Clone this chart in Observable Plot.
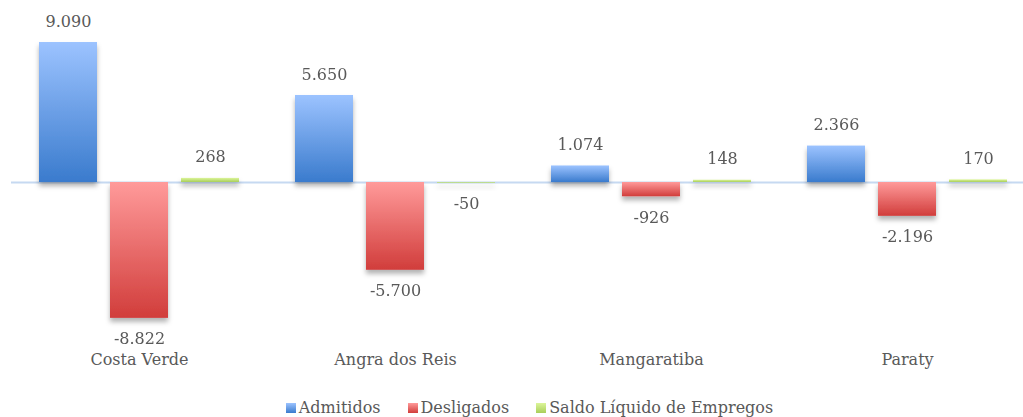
<!DOCTYPE html>
<html>
<head>
<meta charset="utf-8">
<script src="https://cdn.jsdelivr.net/npm/d3@7"></script>
<script src="https://cdn.jsdelivr.net/npm/@observablehq/plot@0.6"></script>
<style>
  body { margin: 0; background: #fff; font-family: "DejaVu Serif", serif; }
  #legend { display: flex; justify-content: center; padding-left: 36px; gap: 27px; margin-top: 23px; font-size: 16px; color: #595959; line-height: 20px; }
  #legend span.item { display: inline-flex; align-items: center; }
  #legend i { display: inline-block; width: 10px; height: 10px; margin-right: 3px; }
</style>
</head>
<body>
<div id="chart"></div>
<div id="legend"></div>
<script>
const regions = ["Costa Verde", "Angra dos Reis", "Mangaratiba", "Paraty"];
const seriesNames = ["Admitidos", "Desligados", "Saldo Líquido de Empregos"];
const admitidos = [9090, 5650, 1074, 2366];
const desligados = [-8822, -5700, -926, -2196];
const saldo = [268, -50, 148, 170];

const gradients = {
  Admitidos: ["#9cc3ff", "#3a7bcd"],
  Desligados: ["#ff9a9a", "#d13d3b"],
  "Saldo Líquido de Empregos": ["#dcf59a", "#a9cf5a"]
};
const gradId = {Admitidos: "gA", Desligados: "gD", "Saldo Líquido de Empregos": "gS"};

const rows = regions.flatMap((r, i) => [
  {region: r, serie: seriesNames[0], value: admitidos[i]},
  {region: r, serie: seriesNames[1], value: desligados[i]},
  {region: r, serie: seriesNames[2], value: saldo[i]}
]);

const loc = d3.formatLocale({decimal: ",", thousands: ".", grouping: [3], currency: ["", ""], minus: "-"});
const fmt = loc.format(",d");

const barMarks = seriesNames.map(s => Plot.barY(rows.filter(d => d.serie === s), {
  fx: "region", x: "serie", y: "value", fill: `url(#${gradId[s]})`
}));

const svg = Plot.plot({
  width: 1023, height: 375,
  marginTop: 28, marginBottom: 39, marginLeft: 11, marginRight: 0,
  style: {fontFamily: "DejaVu Serif, serif", fontSize: "16px", color: "#595959", background: "transparent", overflow: "visible"},
  fx: {domain: regions, range: [11, 1035], padding: 0, label: null, tickSize: 0, tickPadding: 17, axis: "bottom"},
  x: {domain: seriesNames, paddingInner: 0.183, paddingOuter: 0.394, axis: null},
  y: {domain: [-10000, 10000], axis: null},
  marks: [
    Plot.ruleY([0], {stroke: "#c6d9f1", strokeWidth: 2}),
    ...barMarks,
    Plot.text(rows.filter(d => d.value >= 0), {fx: "region", x: "serie", y: "value", text: d => fmt(d.value), dy: -21, fill: "#595959", fontSize: 16}),
    Plot.text(rows.filter(d => d.value < 0), {fx: "region", x: "serie", y: "value", text: d => fmt(d.value), dy: 21, fill: "#595959", fontSize: 16})
  ]
});

// defs: gradients and shadow filter
const s = d3.select(svg);
const defs = s.insert("defs", ":first-child");
for (const name of seriesNames) {
  const g = defs.append("linearGradient").attr("id", gradId[name]).attr("x1", 0).attr("y1", 0).attr("x2", 0).attr("y2", 1);
  g.append("stop").attr("offset", "0%").attr("stop-color", gradients[name][0]);
  g.append("stop").attr("offset", "100%").attr("stop-color", gradients[name][1]);
}
const f = defs.append("filter").attr("id", "shadow").attr("x", "-20%").attr("y", "-50%").attr("width", "140%").attr("height", "300%");
f.append("feDropShadow").attr("dx", 0).attr("dy", 4).attr("stdDeviation", 2.5).attr("flood-color", "#000").attr("flood-opacity", 0.3);
s.selectAll("g[aria-label='bar']").attr("filter", "url(#shadow)");

document.getElementById("chart").appendChild(svg);

const legend = document.getElementById("legend");
for (const name of seriesNames) {
  const item = document.createElement("span");
  item.className = "item";
  const sw = document.createElement("i");
  sw.style.background = `linear-gradient(${gradients[name][0]}, ${gradients[name][1]})`;
  item.appendChild(sw);
  item.appendChild(document.createTextNode(name));
  legend.appendChild(item);
}
</script>
</body>
</html>
